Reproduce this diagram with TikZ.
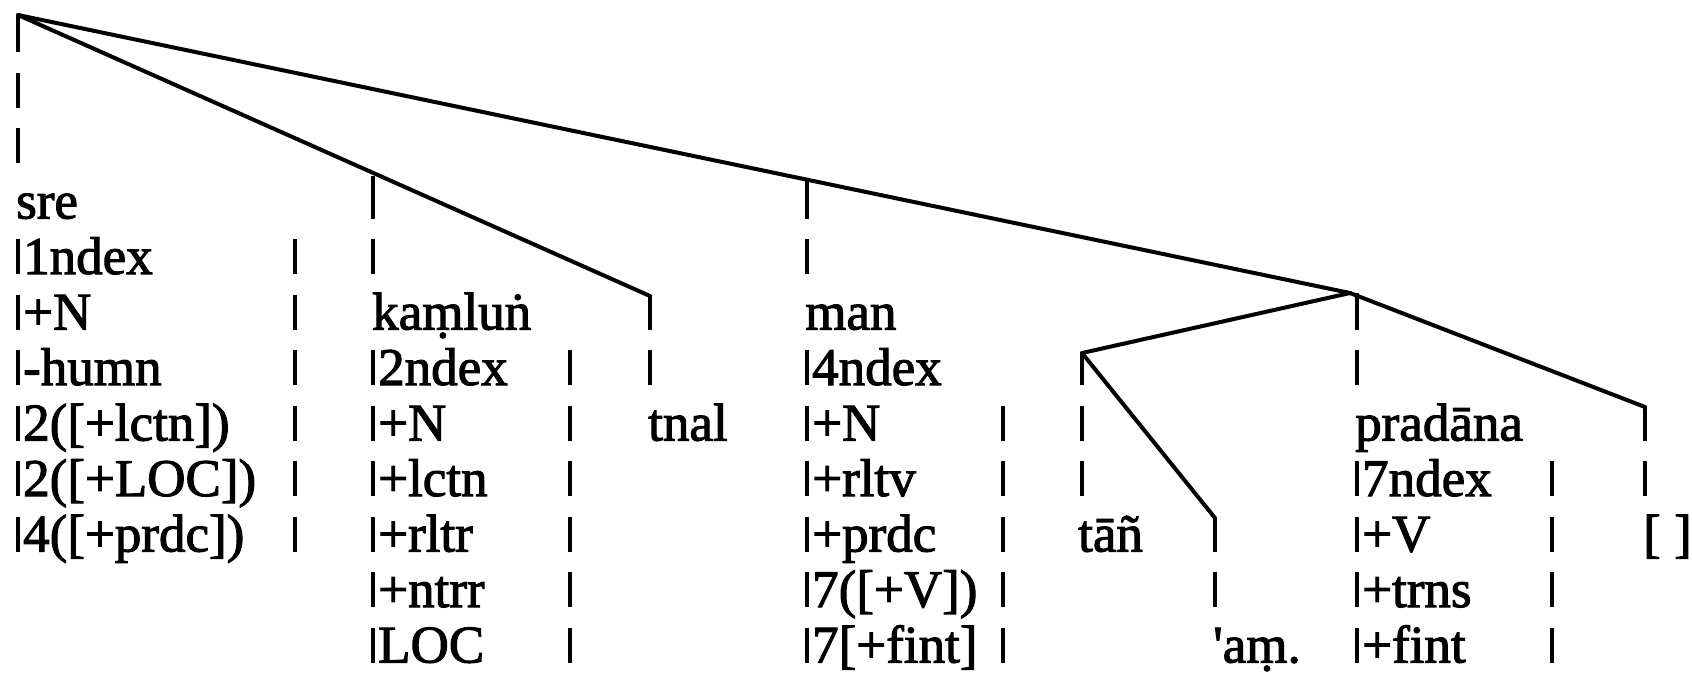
\documentclass[tikz,border=0pt]{standalone}
\usepackage{fontspec}
\setmainfont{Liberation Serif}[FakeBold=2]
\newcommand\vbr[2]{\draw[vb] (#1,{17+55.5*(#2)}) -- (#1,{52+55.5*(#2)});}
\newcommand\ftl[4]{\vbr{#2}{#3}\node[lab] (#1) at ({#2+5},{52+55.5*(#3)}) {#4};}
\newcommand\wrd[4]{\node[lab] (#1) at (#2,{52+55.5*(#3)}) {#4};}
\begin{document}
\begin{tikzpicture}[x=1pt,y=-1pt,
  tl/.style={line width=4pt,line cap=round,line join=round},
  vb/.style={line width=3.8pt},
  lab/.style={anchor=base west,inner sep=0pt,font=\fontsize{53}{60}\selectfont}]
\useasboundingbox (0,0) rectangle (1692,673);
% branch points
\coordinate (root) at (18,15);
\coordinate (tnalc) at (650,296);
\coordinate (J) at (1350,293);
\coordinate (T) at (1082,353);
\coordinate (amc) at (1215,518);
\coordinate (brc) at (1645,407);
% tree lines
\draw[tl] (root) -- (tnalc);
\draw[tl] (root) -- (J);
\draw[tl] (J) -- (T);
\draw[tl] (J) -- (brc);
\draw[tl] (T) -- (amc);
% column 1: sre
\draw[vb] (root) -- (18,52);
\vbr{18}{1} \vbr{18}{2}
\wrd{sre}{16}{3}{sre}
\ftl{sa}{18}{4}{1ndex}
\ftl{sb}{18}{5}{+N}
\ftl{sc}{18}{6}{-humn}
\ftl{sd}{18}{7}{2([+lctn])}
\ftl{se}{18}{8}{2([+LOC])}
\ftl{sf}{18}{9}{4([+prdc])}
\vbr{295}{4}\vbr{295}{5}\vbr{295}{6}\vbr{295}{7}\vbr{295}{8}\vbr{295}{9}
% column 2: kamlun
\draw[vb] (373,176) -- (373,218.5);
\vbr{373}{4}
\wrd{kam}{372}{5}{kaṃluṅ}
\ftl{ka}{373}{6}{2ndex}
\ftl{kb}{373}{7}{+N}
\ftl{kc}{373}{8}{+lctn}
\ftl{kd}{373}{9}{+rltr}
\ftl{ke}{373}{10}{+ntrr}
\ftl{kf}{373}{11}{LOC}
\vbr{570}{6}\vbr{570}{7}\vbr{570}{8}\vbr{570}{9}\vbr{570}{10}\vbr{570}{11}
% tnal
\draw[vb] (tnalc) -- (650,329.5);
\vbr{650}{6}
\wrd{tnal}{648}{7}{tnal}
% column 3: man
\draw[vb] (807,179) -- (807,218.5);
\vbr{807}{4}
\wrd{man}{805}{5}{man}
\ftl{ma}{807}{6}{4ndex}
\ftl{mb}{807}{7}{+N}
\ftl{mc}{807}{8}{+rltv}
\ftl{md}{807}{9}{+prdc}
\ftl{me}{807}{10}{7([+V])}
\ftl{mf}{807}{11}{7[+fint]}
\vbr{1003}{7}\vbr{1003}{8}\vbr{1003}{9}\vbr{1003}{10}\vbr{1003}{11}
% tan
\draw[vb] (T) -- (1082,385);
\vbr{1082}{7}\vbr{1082}{8}
\wrd{tan}{1078}{9}{tāñ}
% am
\draw[vb] (amc) -- (1215,551.5);
\vbr{1215}{10}
\wrd{am}{1213}{11}{\textquotesingle aṃ.}
% pradana
\draw[vb] (1357,293) -- (1357,329.5);
\vbr{1357}{6}
\wrd{pra}{1355}{7}{pradāna}
\ftl{pa}{1357}{8}{7ndex}
\ftl{pb}{1357}{9}{+V}
\ftl{pc}{1357}{10}{+trns}
\ftl{pd}{1357}{11}{+fint}
\vbr{1552}{8}\vbr{1552}{9}\vbr{1552}{10}\vbr{1552}{11}
% [ ]
\draw[vb] (brc) -- (1645,440.5);
\vbr{1645}{8}
\wrd{br}{1643}{9}{[ ]}
\end{tikzpicture}
\end{document}
